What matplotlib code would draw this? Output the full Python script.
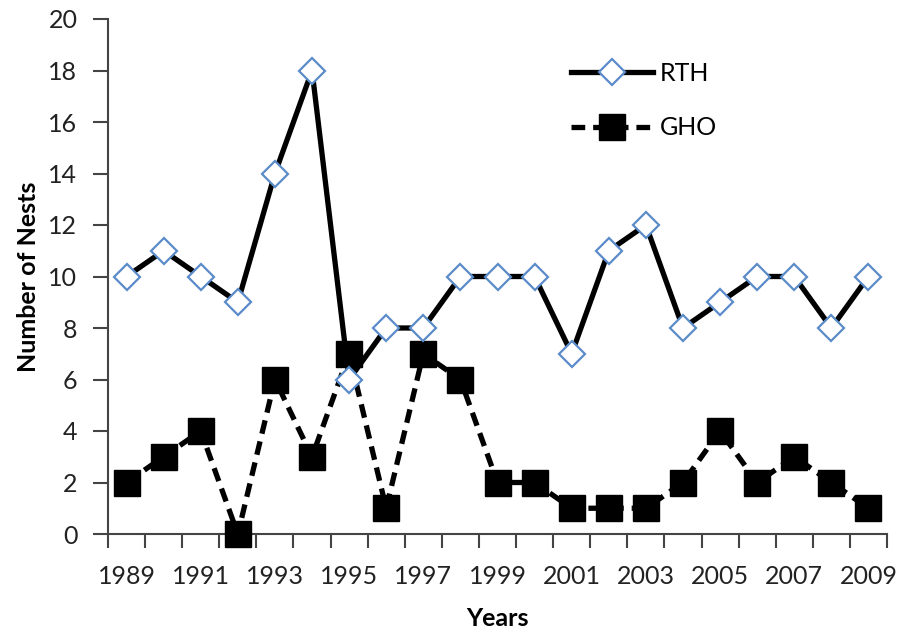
import matplotlib.pyplot as plt
import numpy as np

years = list(range(1989, 2010))
rth = [10, 11, 10, 9, 14, 18, 6, 8, 8, 10, 10, 10, 7, 11, 12, 8, 9, 10, 10, 8, 10]
gho = [2, 3, 4, 0, 6, 3, 7, 1, 7, 6, 2, 2, 1, 1, 1, 2, 4, 2, 3, 2, 1]

plt.rcParams['font.family'] = ['Lato', 'DejaVu Sans']

fig = plt.figure(figsize=(9, 6.34), dpi=100)
ax = fig.add_axes([108 / 900, 100 / 634, 779 / 900, 515 / 634])

x = np.arange(len(years))
ax.plot(x, gho, color="black", linewidth=3.8, linestyle=(0, (2.6, 1.5)),
        marker="s", markersize=19, markerfacecolor="black", markeredgecolor="black",
        label="GHO", zorder=4, clip_on=False)
ax.plot(x, rth, color="black", linewidth=3.8,
        marker="D", markersize=13, markerfacecolor="white", markeredgecolor="#5B8BC9",
        markeredgewidth=1.6, label="RTH", zorder=5, clip_on=False)

ax.set_xlim(-0.5, len(years) - 0.5)
ax.set_ylim(0, 20)
ax.set_yticks(range(0, 21, 2))
ax.set_xticks(np.arange(-0.5, len(years), 1), minor=False)
ax.set_xticklabels([])
ax.set_xticks(x[::2], minor=True)
ax.set_xticklabels([str(y) for y in years[::2]], minor=True)
ax.tick_params(axis="x", which="major", direction="out", length=10, width=1.5, color="#444444")
ax.tick_params(axis="x", which="minor", length=0, pad=22, labelsize=18, labelcolor="#222222")
ax.tick_params(axis="y", direction="out", length=11, width=1.5, color="#444444",
               labelsize=18, labelcolor="#222222", pad=11)

for side in ["top", "right"]:
    ax.spines[side].set_visible(False)
for side in ["left", "bottom"]:
    ax.spines[side].set_linewidth(1.5)
    ax.spines[side].set_color("#444444")

ax.set_xlabel("Years", fontsize=18, fontweight="bold", labelpad=14)
ax.set_ylabel("Number of Nests", fontsize=18, fontweight="bold", labelpad=6)

handles, labels = ax.get_legend_handles_labels()
ax.legend(handles[::-1], labels[::-1], loc="upper left", bbox_to_anchor=(0.565, 0.96),
          frameon=False, fontsize=18, handlelength=3.3, labelspacing=1.25, handletextpad=0.25)

fig.savefig("out.png", dpi=100)
